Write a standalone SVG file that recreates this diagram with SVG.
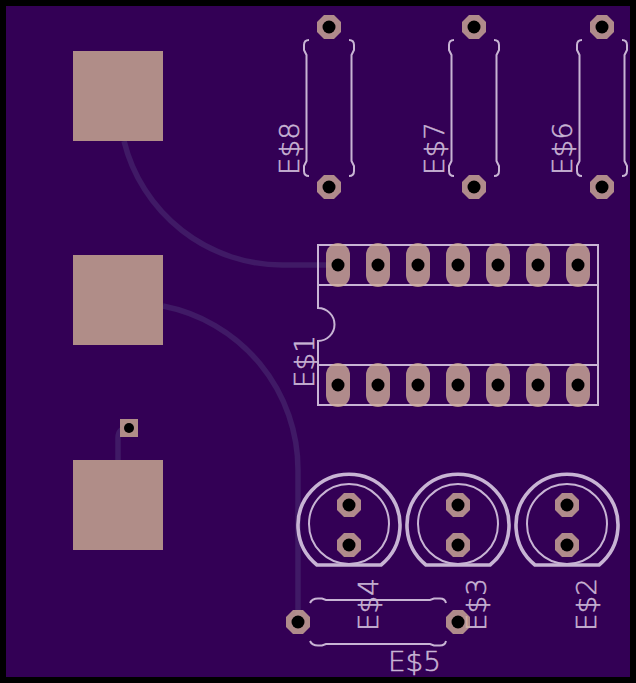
<svg xmlns="http://www.w3.org/2000/svg" width="636" height="683" viewBox="0 0 636 683">
<style>
.silk{fill:none;stroke:#c8b4d4;stroke-width:2}
.thin{stroke-width:2}
.thick{stroke-width:3.6}
.pad{fill:#cfae98;fill-opacity:.8}
.hole{fill:#000}
.trace{fill:none;stroke:#401a66;stroke-width:5.5}
.lbl{font-family:"DejaVu Sans",sans-serif;font-weight:200;font-size:27px;fill:#c8b4d4;stroke:#c8b4d4;stroke-width:.5}
</style>
<defs>
<path id="oct" d="M-5-12H5L12-5V5L5 12H-5L-12 5V-5Z"/>
<path id="obl" d="M-12-10A12 12 0 0 1 12-10V10A12 12 0 0 1-12 10Z"/>
<g id="thpad"><use href="#oct" class="pad"/><circle r="6.5" class="hole"/></g>
<g id="dip"><use href="#obl" class="pad"/><circle r="6.5" class="hole"/></g>
<g id="brV">
<path class="silk thin" d="M-20 -68Q-25 -68 -25 -63V-58L-22.500 -53V53L-25 58V63Q-25 68 -20 68M20 -68Q25 -68 25 -63V-58L22.500 -53V53L25 58V63Q25 68 20 68"/>
</g>
<g id="cap">
<path class="silk thick" d="M-32 40A51 51 0 1 1 32 40Z"/>
<circle r="40" cy="-1" class="silk thin"/>
<use href="#thpad" y="-20"/><use href="#thpad" y="20"/>
</g>
</defs>
<rect width="636" height="683" fill="#000"/>
<rect x="6" y="6" width="624" height="671" fill="#330055"/>
<g id="connectors">
<path class="trace" d="M124 141A163 163 0 0 0 283 265H338"/>
<path class="trace" d="M163 306A167 167 0 0 1 298 470V622"/>
<path class="trace" d="M118 460V438Q118 428 129 428"/>
</g>
<g id="P1"><rect x="73" y="51" width="90" height="90" fill="#b08d88"/></g>
<g id="P2"><rect x="73" y="255" width="90" height="90" fill="#b08d88"/></g>
<g id="P3"><rect x="73" y="460" width="90" height="90" fill="#b08d88"/></g>
<g id="P4"><rect x="120" y="419" width="18" height="18" fill="#b08d88"/><circle cx="129" cy="428" r="5" class="hole"/></g>
<g id="E8"><use href="#brV" x="329" y="108"/><use href="#thpad" x="329" y="27"/><use href="#thpad" x="329" y="187"/>
<text class="lbl" textLength="53" lengthAdjust="spacingAndGlyphs" transform="translate(299 175) rotate(-90)">E$8</text></g>
<g id="E7"><use href="#brV" x="474" y="108"/><use href="#thpad" x="474" y="27"/><use href="#thpad" x="474" y="187"/>
<text class="lbl" textLength="53" lengthAdjust="spacingAndGlyphs" transform="translate(444 175) rotate(-90)">E$7</text></g>
<g id="E6"><use href="#brV" x="602" y="108"/><use href="#thpad" x="602" y="27"/><use href="#thpad" x="602" y="187"/>
<text class="lbl" textLength="53" lengthAdjust="spacingAndGlyphs" transform="translate(572 175) rotate(-90)">E$6</text></g>
<g id="E1">
<path class="silk" d="M318 245H598V405H318V341A16.500 16.500 0 0 0 318 308ZM318 285H598M318 365H598"/>
<use href="#dip" x="338" y="265"/><use href="#dip" x="378" y="265"/><use href="#dip" x="418" y="265"/><use href="#dip" x="458" y="265"/><use href="#dip" x="498" y="265"/><use href="#dip" x="538" y="265"/><use href="#dip" x="578" y="265"/>
<use href="#dip" x="338" y="385"/><use href="#dip" x="378" y="385"/><use href="#dip" x="418" y="385"/><use href="#dip" x="458" y="385"/><use href="#dip" x="498" y="385"/><use href="#dip" x="538" y="385"/><use href="#dip" x="578" y="385"/>
<text class="lbl" textLength="53" lengthAdjust="spacingAndGlyphs" transform="translate(314 388) rotate(-90)">E$1</text></g>
<g id="E4"><use href="#cap" x="349" y="525"/><text class="lbl" textLength="53" lengthAdjust="spacingAndGlyphs" transform="translate(378 631) rotate(-90)">E$4</text></g>
<g id="E3"><use href="#cap" x="458" y="525"/><text class="lbl" textLength="53" lengthAdjust="spacingAndGlyphs" transform="translate(486 631) rotate(-90)">E$3</text></g>
<g id="E2"><use href="#cap" x="567" y="525"/><text class="lbl" textLength="53" lengthAdjust="spacingAndGlyphs" transform="translate(596 631) rotate(-90)">E$2</text></g>
<g id="E5">
<path class="silk thin" d="M310 603Q312 598.500 318 598.500H322L326 600H430L434 598.500H440Q445 598.500 446 603M310 641Q312 645.500 318 645.500H322L326 644H430L434 645.500H440Q445 645.500 446 641"/>
<use href="#thpad" x="298" y="622"/><use href="#thpad" x="458" y="622"/>
<text class="lbl" textLength="53" lengthAdjust="spacingAndGlyphs" x="388" y="671">E$5</text></g>
</svg>
